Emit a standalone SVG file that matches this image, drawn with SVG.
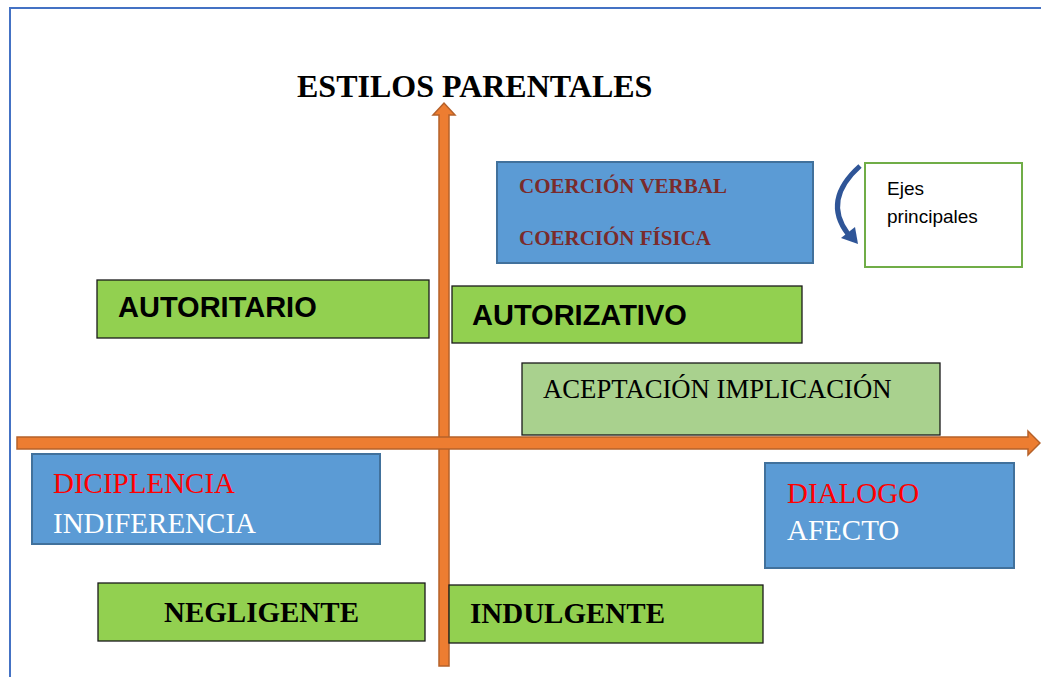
<svg xmlns="http://www.w3.org/2000/svg" width="1041" height="677" viewBox="0 0 1041 677">
<style>
.frame{fill:none;stroke:#4472C4;stroke-width:2}
.axis{fill:#ED7D31;stroke:#B5612A;stroke-width:1.5}
.green{fill:#92D050;stroke:#1A1A1A;stroke-width:1.3}
.lgreen{fill:#A9D18E;stroke:#1A1A1A;stroke-width:1.3}
.blue{fill:#5B9BD5;stroke:#41719C;stroke-width:2}
.legend{fill:#FFFFFF;stroke:#70AD47;stroke-width:2}
.serif{font-family:"Liberation Serif","Times New Roman",serif}
.sans{font-family:"Liberation Sans",Arial,sans-serif}
.lbl{font-weight:bold;font-size:29px;fill:#000}
.coer{font-weight:bold;font-size:21px;fill:#7A2B2B}
.reg{font-size:29px}
</style>
<rect width="1041" height="677" fill="#FFFFFF"/>
<path class="frame" d="M10,677 L10,8 L1041,8"/>
<text class="serif" x="297" y="97" font-size="32" font-weight="bold" fill="#000">ESTILOS PARENTALES</text>
<g id="connectors">
  <polygon class="axis" points="439,666 439,115 433,115 444,103 455,115 449,115 449,666"/>
  <polygon class="axis" points="17,437 1028,437 1028,431 1040,443 1028,455 1028,449 17,449"/>
  <path d="M860,166 Q822,200 848,234" fill="none" stroke="#2F5597" stroke-width="5"/>
  <polygon points="858,244 841,238 855,227" fill="#2F5597"/>
</g>
<g id="coercion">
  <rect class="blue" x="497" y="162" width="316" height="101"/>
  <text class="serif coer" x="519" y="193">COERCIÓN VERBAL</text>
  <text class="serif coer" x="519" y="245">COERCIÓN FÍSICA</text>
</g>
<g id="ejes">
  <rect class="legend" x="865" y="163" width="157" height="104"/>
  <text class="sans" x="887" y="195" font-size="19" fill="#000">Ejes</text>
  <text class="sans" x="887" y="223" font-size="19" fill="#000">principales</text>
</g>
<g id="autoritario">
  <rect class="green" x="97" y="280" width="332" height="58"/>
  <text class="sans lbl" x="118" y="317">AUTORITARIO</text>
</g>
<g id="autorizativo">
  <rect class="green" x="452" y="286" width="350" height="57"/>
  <text class="sans lbl" x="472" y="325">AUTORIZATIVO</text>
</g>
<g id="aceptacion">
  <rect class="lgreen" x="522" y="363" width="418" height="72"/>
  <text class="serif" x="543" y="398" font-size="26.7" fill="#000">ACEPTACIÓN IMPLICACIÓN</text>
</g>
<g id="diciplencia">
  <rect class="blue" x="32" y="454" width="348" height="90"/>
  <text class="serif reg" x="53" y="493" fill="#FF0000">DICIPLENCIA</text>
  <text class="serif reg" x="53" y="533" fill="#FFFFFF">INDIFERENCIA</text>
</g>
<g id="dialogo">
  <rect class="blue" x="765" y="463" width="249" height="105"/>
  <text class="serif reg" x="787" y="503" fill="#FF0000">DIALOGO</text>
  <text class="serif reg" x="787" y="540" fill="#FFFFFF">AFECTO</text>
</g>
<g id="negligente">
  <rect class="green" x="98" y="583" width="327" height="58"/>
  <text class="serif lbl" x="164" y="622">NEGLIGENTE</text>
</g>
<g id="indulgente">
  <rect class="green" x="449" y="585" width="314" height="58"/>
  <text class="serif lbl" x="470" y="623">INDULGENTE</text>
</g>
</svg>
